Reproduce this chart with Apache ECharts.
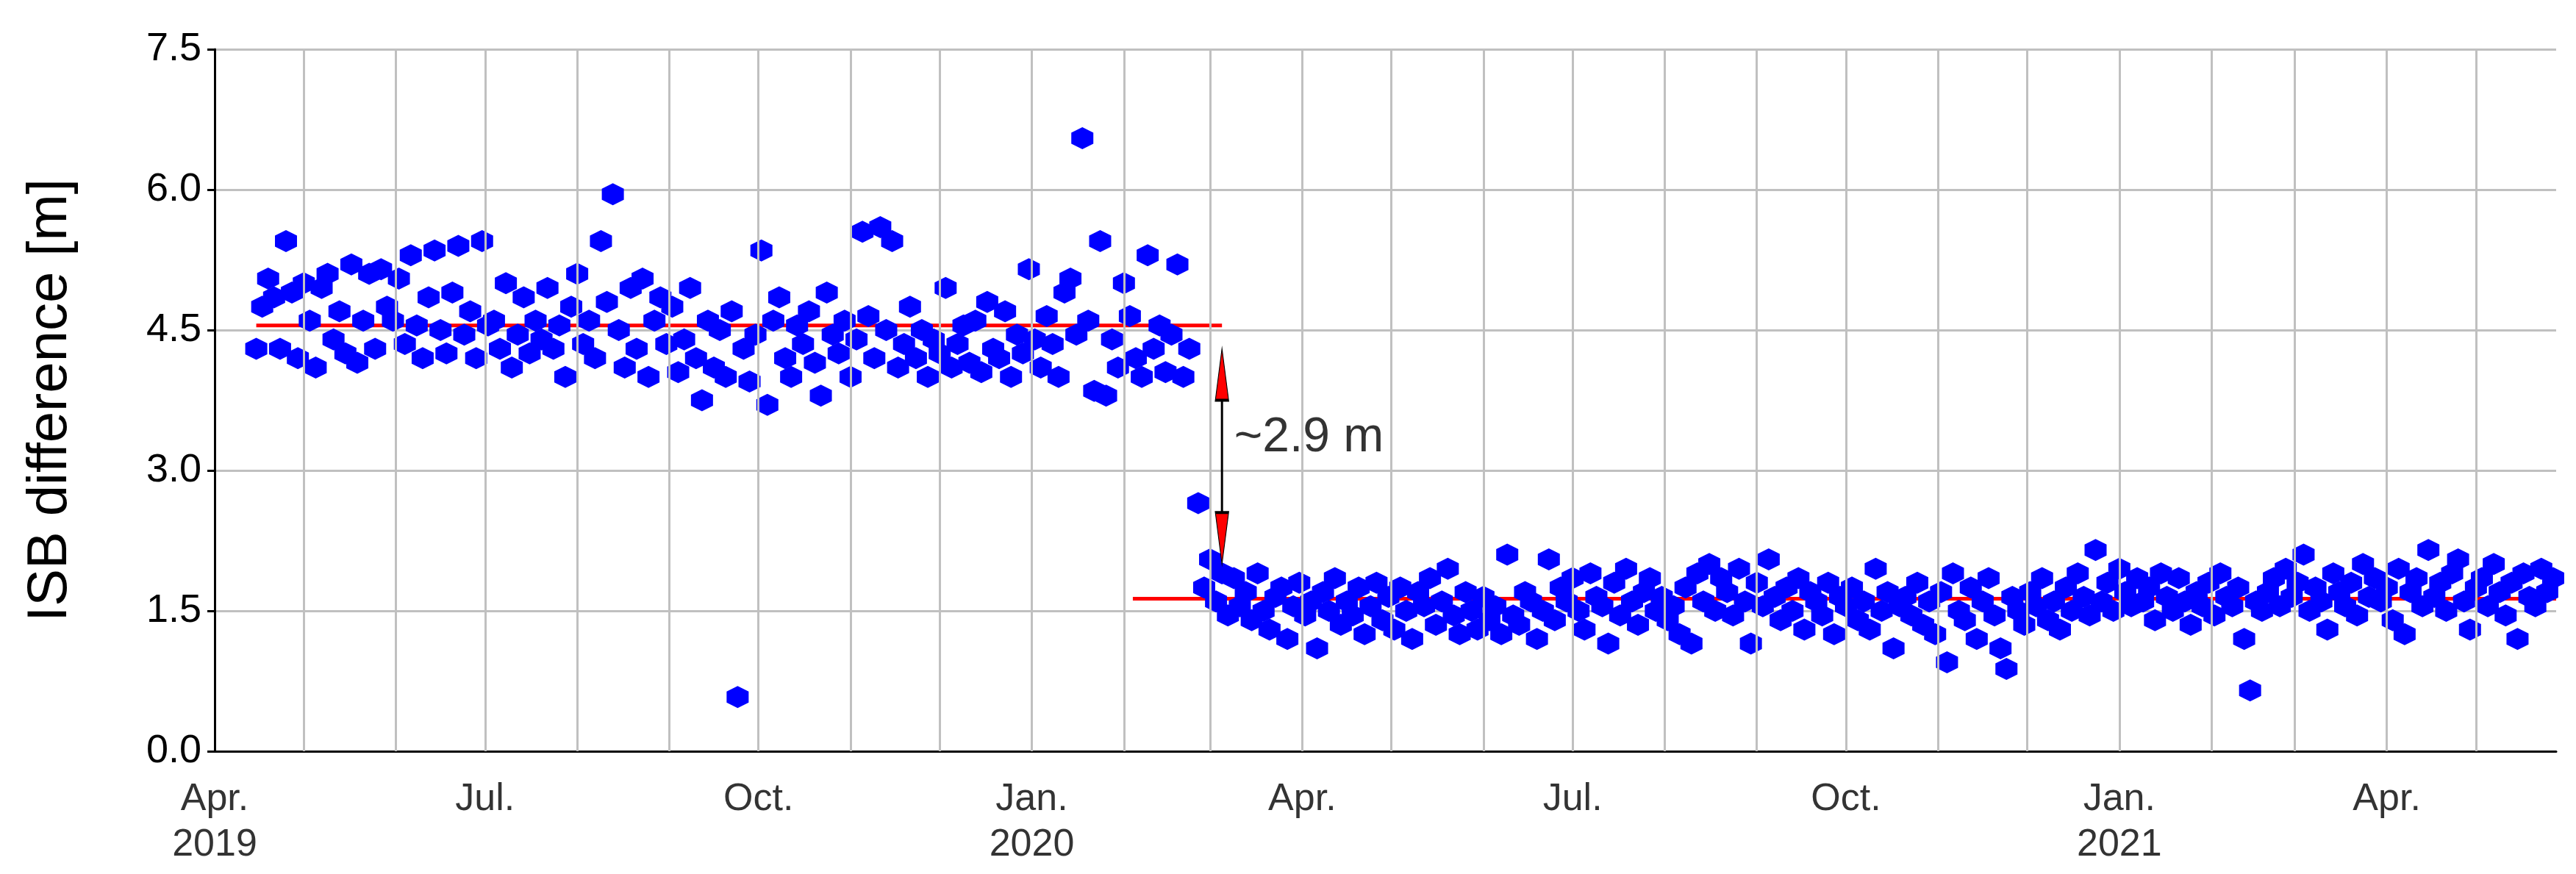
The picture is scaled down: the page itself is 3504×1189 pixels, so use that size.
<!DOCTYPE html>
<html>
<head>
<meta charset="utf-8"/>
<script src="https://cdn.jsdelivr.net/npm/echarts@6/dist/echarts.min.js"></script>
<style>
html,body{margin:0;padding:0;background:#fff}
#mychart{width:3504px;height:1189px}
</style>
</head>
<body>
<div id="mychart"></div>
<script>
// segment 1: one value every 2 days starting 2019-04-15
var seg1Start = '2019-04-15';
var seg1 = [4.3,4.75,5.05,4.85,4.3,5.45,4.9,4.2,5.0,4.6,
4.1,4.95,5.1,4.4,4.7,4.25,5.2,4.15,4.6,5.1,
4.3,5.15,4.75,4.6,5.05,4.35,5.3,4.55,4.2,4.85,
5.35,4.5,4.25,4.9,5.4,4.45,4.7,4.2,5.45,4.55,
4.6,4.3,5.0,4.1,4.45,4.85,4.25,4.6,4.4,4.95,
4.3,4.55,4.0,4.75,5.1,4.35,4.6,4.2,5.45,4.8,
5.95,4.5,4.1,4.95,4.3,5.05,4.0,4.6,4.85,4.35,
4.75,4.05,4.4,4.95,4.2,3.75,4.6,4.1,4.5,4.0,
4.7,0.58,4.3,3.95,4.45,5.35,3.7,4.6,4.85,4.2,
4.0,4.55,4.35,4.7,4.15,3.8,4.9,4.45,4.25,4.6,
4.0,4.4,5.55,4.65,4.2,5.6,4.5,5.45,4.1,4.35,
4.75,4.2,4.5,4.0,4.4,4.25,4.95,4.1,4.35,4.55,
4.15,4.6,4.05,4.8,4.3,4.2,4.7,4.0,4.45,4.25,
5.15,4.4,4.1,4.65,4.35,4.0,4.9,5.05,4.45,6.55,
4.6,3.85,5.45,3.8,4.4,4.1,5.0,4.65,4.2,4.0,
5.3,4.3,4.55,4.05,4.45,5.2,4.0,4.3];
// segment 2: one value every 2 days starting 2020-02-26
var seg2Start = '2020-02-26';
var seg2 = [2.65,1.75,2.05,1.6,1.9,1.45,1.85,1.55,1.7,1.4,
1.9,1.5,1.3,1.65,1.75,1.2,1.55,1.8,1.45,1.6,
1.1,1.7,1.5,1.85,1.35,1.6,1.45,1.75,1.25,1.55,
1.8,1.4,1.65,1.3,1.75,1.5,1.2,1.7,1.55,1.85,
1.35,1.6,1.95,1.45,1.25,1.7,1.5,1.3,1.65,1.4,
1.55,1.25,2.1,1.45,1.35,1.7,1.6,1.2,1.5,2.05,
1.4,1.75,1.6,1.85,1.5,1.3,1.9,1.65,1.55,1.15,
1.8,1.45,1.95,1.6,1.35,1.7,1.85,1.5,1.65,1.4,
1.55,1.25,1.75,1.15,1.9,1.6,2.0,1.5,1.85,1.7,
1.45,1.95,1.6,1.15,1.8,1.55,2.05,1.65,1.4,1.75,
1.5,1.85,1.3,1.7,1.6,1.45,1.8,1.25,1.65,1.55,
1.75,1.4,1.6,1.3,1.95,1.5,1.7,1.1,1.55,1.65,
1.45,1.8,1.35,1.6,1.25,1.7,0.95,1.9,1.5,1.4,
1.75,1.2,1.6,1.85,1.45,1.1,0.88,1.65,1.5,1.35,
1.7,1.55,1.85,1.4,1.6,1.3,1.75,1.5,1.9,1.65,
1.45,2.15,1.6,1.8,1.5,1.95,1.7,1.55,1.85,1.6,
1.75,1.4,1.9,1.65,1.5,1.85,1.6,1.35,1.7,1.55,
1.8,1.45,1.9,1.65,1.55,1.75,1.2,0.65,1.6,1.5,
1.7,1.85,1.55,1.95,1.65,1.8,2.1,1.5,1.75,1.6,
1.3,1.9,1.7,1.55,1.8,1.45,2.0,1.65,1.85,1.6,
1.75,1.4,1.95,1.25,1.7,1.85,1.55,2.15,1.65,1.8,
1.5,1.9,2.05,1.6,1.3,1.75,1.85,1.55,2.0,1.7,
1.45,1.8,1.2,1.9,1.65,1.55,1.95,1.7,1.85];
var mean1 = {from: '2019-04-15', to: '2020-03-05', value: 4.55};
var mean2 = {from: '2020-02-04', to: '2021-05-28', value: 1.63};
var arrowX = '2020-03-05', arrowTop = 4.3, arrowBottom = 2.0;
var jumpText = '~2.9 m';
var monthStarts = ['2019-04-01','2019-05-01','2019-06-01','2019-07-01','2019-08-01','2019-09-01',
'2019-10-01','2019-11-01','2019-12-01','2020-01-01','2020-02-01','2020-03-01','2020-04-01',
'2020-05-01','2020-06-01','2020-07-01','2020-08-01','2020-09-01','2020-10-01','2020-11-01',
'2020-12-01','2021-01-01','2021-02-01','2021-03-01','2021-04-01','2021-05-01'];
var monthNames = {0:'Jan.',3:'Apr.',6:'Jul.',9:'Oct.'};
var yearLabelMonths = ['2019-04','2020-01','2021-01'];

var DAY = 86400000;
function toPoints(start, vals) {
    var t0 = new Date(start + 'T00:00:00Z').getTime();
    return vals.map(function (v, i) { return [t0 + i * 2 * DAY, v]; });
}
function t(s) { return new Date(s + 'T00:00:00Z').getTime(); }
function isQuarter(m) { return monthNames[parseInt(m.slice(5, 7), 10) - 1] !== undefined; }

var hex = 'path://M0,-10L8.66,-5L8.66,5L0,10L-8.66,5L-8.66,-5Z';
var chart = echarts.init(document.getElementById('mychart'));

// monthly vertical grid lines
var gridLines = monthStarts.slice(1).map(function (m) { return {xAxis: t(m)}; });
// ticks below the axis: long at quarters, short at other months
var tickLines = monthStarts.map(function (m) {
    var len = isQuarter(m) ? 0.3 : 0.15;
    return [{coord: [t(m), 0]}, {coord: [t(m), -len]}];
});
// axis labels at quarter month starts, placed under the axis
var labelPts = monthStarts.filter(isQuarter).map(function (m) {
    var txt = monthNames[parseInt(m.slice(5, 7), 10) - 1];
    if (yearLabelMonths.indexOf(m.slice(0, 7)) >= 0) txt += '\n' + m.slice(0, 4);
    return {value: [t(m), 0], label: {formatter: txt}};
});

var option = {
    animation: false,
    grid: {left: 292, right: 27, top: 67, bottom: 167, containLabel: false},
    xAxis: {
        type: 'value',
        min: t('2019-04-01'),
        max: t('2021-05-28'),
        axisLabel: {show: false},
        axisTick: {show: false},
        splitLine: {show: false},
        axisLine: {show: true, onZero: false, lineStyle: {color: '#000', width: 3}}
    },
    yAxis: {
        type: 'value', min: 0, max: 7.5, interval: 1.5,
        name: 'ISB difference [m]', nameLocation: 'middle', nameGap: 185,
        nameTextStyle: {fontSize: 76, fontFamily: 'Liberation Sans', color: '#000'},
        axisLabel: {fontSize: 54, fontFamily: 'Liberation Sans', color: '#000', margin: 18,
            formatter: function (v) { return v.toFixed(1); }},
        axisTick: {show: true, inside: false, length: 10, lineStyle: {color: '#000', width: 3}},
        axisLine: {show: true, lineStyle: {color: '#000', width: 3}},
        splitLine: {lineStyle: {color: '#c0c0c0', width: 3}}
    },
    series: [
        {
            type: 'line', data: [], silent: true,
            markLine: {symbol: 'none', silent: true, label: {show: false},
                lineStyle: {color: '#c0c0c0', width: 3, type: 'solid'}, data: gridLines}
        },
        {
            type: 'line', data: [], silent: true,
            markLine: {symbol: 'none', silent: true, label: {show: false},
                lineStyle: {color: '#000', width: 3, type: 'solid'}, data: tickLines}
        },
        {
            type: 'scatter', data: labelPts, symbolSize: 1, silent: true, clip: false,
            itemStyle: {color: 'rgba(0,0,0,0)'},
            label: {show: true, position: 'bottom', distance: 34, fontSize: 52,
                fontFamily: 'Liberation Sans', color: '#000', lineHeight: 62}
        },
        {
            type: 'scatter', data: toPoints(seg1Start, seg1), symbol: hex, symbolSize: 30,
            itemStyle: {color: '#0000ff', opacity: 1}, z: 3
        },
        {
            type: 'scatter', data: toPoints(seg2Start, seg2), symbol: hex, symbolSize: 30,
            itemStyle: {color: '#0000ff', opacity: 1}, z: 3
        },
        {
            type: 'line', data: [[t(mean1.from), mean1.value], [t(mean1.to), mean1.value]],
            symbol: 'none', lineStyle: {color: '#ff0000', width: 5}, z: 2
        },
        {
            type: 'line', data: [[t(mean2.from), mean2.value], [t(mean2.to), mean2.value]],
            symbol: 'none', lineStyle: {color: '#ff0000', width: 5}, z: 2
        },
        {
            type: 'line', data: [[t(arrowX), arrowTop - 0.2], [t(arrowX), arrowBottom + 0.2]],
            symbol: 'none', lineStyle: {color: '#000', width: 3}, z: 4
        },
        {
            type: 'scatter', symbol: 'triangle', symbolSize: [18, 70],
            itemStyle: {color: '#ff0000', borderColor: '#000', borderWidth: 2, opacity: 1}, z: 5,
            data: [
                {value: [t(arrowX), arrowTop], symbolOffset: [0, '50%']},
                {value: [t(arrowX), arrowBottom], symbolRotate: 180, symbolOffset: [0, '-50%']}
            ]
        },
        {
            type: 'scatter', symbolSize: 1, z: 5, itemStyle: {color: 'rgba(0,0,0,0)'},
            data: [[t(arrowX), (arrowTop + arrowBottom) / 2 + 0.2]],
            label: {show: true, position: 'right', distance: 16, formatter: jumpText,
                fontSize: 66, fontFamily: 'Liberation Sans', color: '#000'}
        }
    ]
};
chart.setOption(option);
</script>
</body>
</html>
